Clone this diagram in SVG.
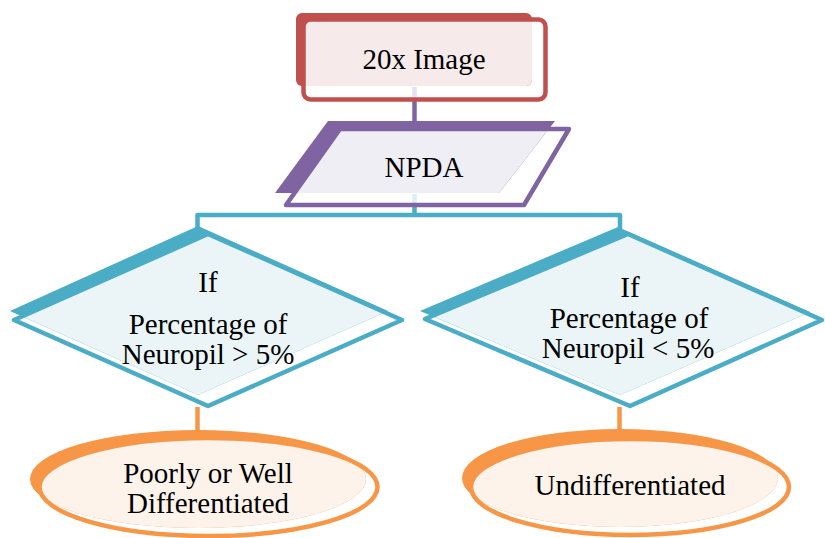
<svg xmlns="http://www.w3.org/2000/svg" width="825" height="538" viewBox="0 0 825 538">
  <style>
    .txt { font-family: 'Liberation Serif', 'DejaVu Serif', serif; font-size: 29px; fill: #000; text-anchor: middle; }
    .edge { fill: none; stroke-width: 4.5; }
    .ol { fill: none; stroke-width: 4.5; stroke-linejoin: round; }
    .red { fill: #C0504D; }
    .redL { fill: #F7EAEA; }
    .redO { stroke: #C0504D; }
    .pur { fill: #8064A2; }
    .purL { fill: #F0EEF5; }
    .purO { stroke: #8064A2; }
    .blu { fill: #4BACC6; }
    .bluL { fill: #EBF5F8; }
    .bluO { stroke: #4BACC6; }
    .org { fill: #F79646; }
    .orgL { fill: #FDF3EB; }
    .orgO { stroke: #F79646; }
  </style>
  <defs>
    <clipPath id="c-img"><rect x="303.5" y="19.5" width="242" height="80" rx="7"/></clipPath>
    <clipPath id="c-npda"><polygon points="340,129 569,129 524,205 286,205"/></clipPath>
    <clipPath id="c-d1"><polygon points="208,234 402,320 208,406 14,320"/></clipPath>
    <clipPath id="c-d2"><polygon points="628,234 822,320 630,406 425,319"/></clipPath>
    <clipPath id="c-e1"><ellipse cx="208.5" cy="487" rx="169" ry="49"/></clipPath>
    <clipPath id="c-e2"><ellipse cx="630" cy="487" rx="159" ry="48"/></clipPath>
  </defs>

  <!-- connectors -->
  <g id="connectors">
    <line x1="414.5" y1="87" x2="414.5" y2="98" stroke="#E6E1EE" stroke-width="4.5"/>
    <line class="edge" x1="414.5" y1="99" x2="414.5" y2="128" stroke="#8064A2"/>
    <line x1="414.5" y1="194" x2="414.5" y2="204" stroke="#DCEFF4" stroke-width="4.5"/>
    <path class="edge" d="M414.5 205 V215 M197.5 233 V215 H620 V233" stroke="#4BACC6" stroke-linejoin="round"/>
    <path class="edge" d="M197.5 407 V431 M619.5 407 V431" stroke="#F79646"/>
  </g>

  <!-- 20x Image -->
  <g id="node-image">
    <rect class="red" x="296" y="13" width="236" height="73" rx="6"/>
    <rect class="redL" x="296" y="13" width="236" height="73" rx="6" clip-path="url(#c-img)"/>
    <rect class="ol redO" x="303.5" y="19.5" width="242" height="80" rx="7"/>
    <text class="txt" x="424" y="69">20x Image</text>
  </g>

  <!-- NPDA -->
  <g id="node-npda">
    <polygon class="pur" points="328,121 555,121 499,193 275,193"/>
    <polygon class="purL" points="328,121 555,121 499,193 275,193" clip-path="url(#c-npda)"/>
    <polygon class="ol purO" points="340,129 569,129 524,205 286,205"/>
    <text class="txt" x="424" y="177">NPDA</text>
  </g>

  <!-- decision: neuropil > 5% -->
  <g id="node-gt5">
    <polygon class="blu" points="198,226 388,311 198,395 10,311"/>
    <polygon class="bluL" points="198,226 388,311 198,395 10,311" clip-path="url(#c-d1)"/>
    <polygon class="ol bluO" points="208,234 402,320 208,406 14,320"/>
    <text class="txt" x="208" y="292">If</text>
    <text class="txt" x="208" y="334">Percentage of</text>
    <text class="txt" x="208" y="364">Neuropil &gt; 5%</text>
  </g>

  <!-- decision: neuropil < 5% -->
  <g id="node-lt5">
    <polygon class="blu" points="618,227 810,312 620,395 420,311"/>
    <polygon class="bluL" points="618,227 810,312 620,395 420,311" clip-path="url(#c-d2)"/>
    <polygon class="ol bluO" points="628,234 822,320 630,406 425,319"/>
    <text class="txt" x="630" y="297">If</text>
    <text class="txt" x="629" y="328">Percentage of</text>
    <text class="txt" x="628" y="358">Neuropil &lt; 5%</text>
  </g>

  <!-- outcome: poorly or well differentiated -->
  <g id="node-diff">
    <ellipse class="org" cx="198" cy="479" rx="168" ry="49"/>
    <ellipse class="orgL" cx="198" cy="479" rx="168" ry="49" clip-path="url(#c-e1)"/>
    <ellipse class="ol orgO" cx="208.5" cy="487" rx="169" ry="49" stroke-width="5"/>
    <text class="txt" x="208" y="483">Poorly or Well</text>
    <text class="txt" x="208" y="513">Differentiated</text>
  </g>

  <!-- outcome: undifferentiated -->
  <g id="node-undiff">
    <ellipse class="org" cx="620" cy="478" rx="158" ry="49"/>
    <ellipse class="orgL" cx="620" cy="478" rx="158" ry="49" clip-path="url(#c-e2)"/>
    <ellipse class="ol orgO" cx="630" cy="487" rx="159" ry="48" stroke-width="5"/>
    <text class="txt" x="630" y="495">Undifferentiated</text>
  </g>
</svg>
